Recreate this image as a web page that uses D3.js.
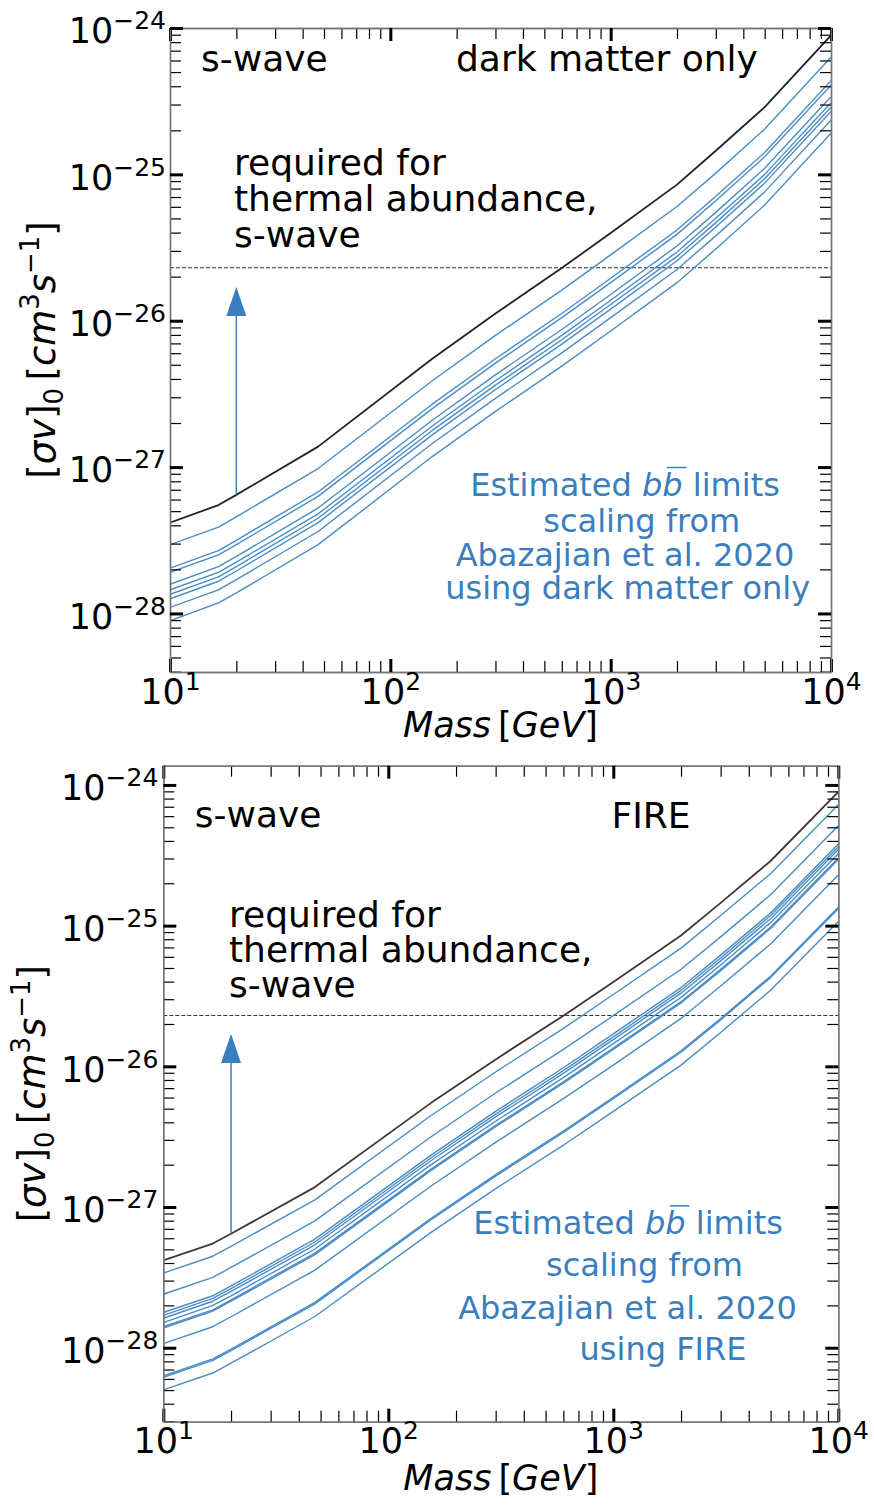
<!DOCTYPE html>
<html>
<head>
<meta charset="utf-8">
<script src="https://cdn.jsdelivr.net/npm/d3@7"></script>
<style>
  body { margin: 0; background: #fff; }
  svg text { font-family: "DejaVu Sans", sans-serif; }
</style>
</head>
<body>
<svg id="fig" width="874" height="1505"></svg>
<script>
// Dark matter mass grid [GeV]
const massGeV = [10, 16.6, 20, 47, 155, 300, 600, 1000, 2000, 3000, 5000, 10000];

// Reference s-wave limit (black curve), <sigma v>_0 in cm^3 s^-1
const abazajian2020Limit = [4.17e-28, 5.50e-28, 6.46e-28, 1.38e-27, 5.50e-27, 1.12e-26, 2.29e-26, 3.98e-26, 8.51e-26, 1.45e-25, 2.88e-25, 8.91e-25];

// Estimated b-bbar limits per halo, dark matter only simulations
const dmoEstimates = [
  [2.95e-28, 3.89e-28, 4.57e-28, 9.77e-28, 3.89e-27, 7.94e-27, 1.62e-26, 2.82e-26, 6.03e-26, 1.02e-25, 2.04e-25, 6.31e-25],
  [2.04e-28, 2.69e-28, 3.16e-28, 6.76e-28, 2.69e-27, 5.50e-27, 1.12e-26, 1.95e-26, 4.17e-26, 7.08e-26, 1.41e-25, 4.37e-25],
  [1.91e-28, 2.51e-28, 2.95e-28, 6.31e-28, 2.51e-27, 5.13e-27, 1.05e-26, 1.82e-26, 3.89e-26, 6.61e-26, 1.32e-25, 4.07e-25],
  [1.58e-28, 2.09e-28, 2.45e-28, 5.25e-28, 2.09e-27, 4.27e-27, 8.71e-27, 1.51e-26, 3.24e-26, 5.50e-26, 1.10e-25, 3.39e-25],
  [1.45e-28, 1.91e-28, 2.24e-28, 4.79e-28, 1.91e-27, 3.89e-27, 7.94e-27, 1.38e-26, 2.95e-26, 5.01e-26, 1.00e-25, 3.09e-25],
  [1.35e-28, 1.78e-28, 2.09e-28, 4.47e-28, 1.78e-27, 3.63e-27, 7.41e-27, 1.29e-26, 2.75e-26, 4.68e-26, 9.33e-26, 2.88e-25],
  [1.26e-28, 1.66e-28, 1.95e-28, 4.17e-28, 1.66e-27, 3.39e-27, 6.92e-27, 1.20e-26, 2.57e-26, 4.37e-26, 8.71e-26, 2.69e-25],
  [1.10e-28, 1.45e-28, 1.70e-28, 3.63e-28, 1.45e-27, 2.95e-27, 6.03e-27, 1.05e-26, 2.24e-26, 3.80e-26, 7.59e-26, 2.34e-25],
  [8.91e-29, 1.18e-28, 1.38e-28, 2.95e-28, 1.18e-27, 2.40e-27, 4.90e-27, 8.51e-27, 1.82e-26, 3.09e-26, 6.17e-26, 1.91e-25]
];

// Estimated b-bbar limits per halo, FIRE hydrodynamic simulations
const fireEstimates = [
  [3.39e-28, 4.47e-28, 5.25e-28, 1.12e-27, 4.47e-27, 9.12e-27, 1.86e-26, 3.24e-26, 6.92e-26, 1.18e-25, 2.34e-25, 7.24e-25],
  [2.40e-28, 3.16e-28, 3.72e-28, 7.94e-28, 3.16e-27, 6.46e-27, 1.32e-26, 2.29e-26, 4.90e-26, 8.32e-26, 1.66e-25, 5.13e-25],
  [1.78e-28, 2.34e-28, 2.75e-28, 5.89e-28, 2.34e-27, 4.79e-27, 9.77e-27, 1.70e-26, 3.63e-26, 6.17e-26, 1.23e-25, 3.80e-25],
  [1.70e-28, 2.24e-28, 2.63e-28, 5.62e-28, 2.24e-27, 4.57e-27, 9.33e-27, 1.62e-26, 3.47e-26, 5.89e-26, 1.18e-25, 3.63e-25],
  [1.62e-28, 2.14e-28, 2.51e-28, 5.37e-28, 2.14e-27, 4.37e-27, 8.91e-27, 1.55e-26, 3.31e-26, 5.62e-26, 1.12e-25, 3.47e-25],
  [1.51e-28, 2.00e-28, 2.34e-28, 5.01e-28, 2.00e-27, 4.07e-27, 8.32e-27, 1.45e-26, 3.09e-26, 5.25e-26, 1.05e-25, 3.24e-25],
  [1.41e-28, 1.86e-28, 2.19e-28, 4.68e-28, 1.86e-27, 3.80e-27, 7.76e-27, 1.35e-26, 2.88e-26, 4.90e-26, 9.77e-26, 3.02e-25],
  [1.38e-28, 1.82e-28, 2.14e-28, 4.57e-28, 1.82e-27, 3.72e-27, 7.59e-27, 1.32e-26, 2.82e-26, 4.79e-26, 9.55e-26, 2.95e-25],
  [1.07e-28, 1.41e-28, 1.66e-28, 3.55e-28, 1.41e-27, 2.88e-27, 5.89e-27, 1.02e-26, 2.19e-26, 3.72e-26, 7.41e-26, 2.29e-25],
  [6.31e-29, 8.32e-29, 9.77e-29, 2.09e-28, 8.32e-28, 1.70e-27, 3.47e-27, 6.03e-27, 1.29e-26, 2.19e-26, 4.37e-26, 1.35e-25],
  [6.17e-29, 8.13e-29, 9.55e-29, 2.04e-28, 8.13e-28, 1.66e-27, 3.39e-27, 5.89e-27, 1.26e-26, 2.14e-26, 4.27e-26, 1.32e-25],
  [5.01e-29, 6.61e-29, 7.76e-29, 1.66e-28, 6.61e-28, 1.35e-27, 2.75e-27, 4.79e-27, 1.02e-26, 1.74e-26, 3.47e-26, 1.07e-25]
];

// Thermal relic cross section and the "allowed upward" arrow
const thermalRelicXsec = 2.3e-26;
const arrowMass = 20;
const arrowBase = 6.46e-28;
const arrowTip = 1.7e-26;

const xMajorTicks = [10, 100, 1000, 10000];
const yMajorTicks = [1e-28, 1e-27, 1e-26, 1e-25, 1e-24];

const BLUE = "#3a7ebd";
const LINE_BLUE = "#4a8cc5";
const FS = 35;

const panels = [
  {
    id: "dmo",
    box: { l: 170, r: 831, t: 28, b: 672 },
    yDomain: [3.98e-29, 1.0001e-24],
    series: dmoEstimates,
    refColor: "#1b2430",
    yLabelX: 55, xLabelY: 736.7, tickPad: 4,
    titles: [
      { text: "s-wave", x: 201, y: 71 },
      { text: "dark matter only", x: 456, y: 71 }
    ],
    thermal: { x: 234, ys: [175, 211, 247] },
    note: {
      lines: ["Estimated ", "scaling from", "Abazajian et al. 2020", "using dark matter only"],
      xs: [625, 641.7, 625, 627.7], ys: [496, 531.7, 566, 599.3]
    }
  },
  {
    id: "fire",
    box: { l: 163.3, r: 838.3, t: 765.7, b: 1421.7 },
    yDomain: [2.98e-29, 1.37e-24],
    series: fireEstimates,
    refColor: "#3a3a3a",
    yLabelX: 45.4, xLabelY: 1490, tickPad: 5,
    titles: [
      { text: "s-wave", x: 194.7, y: 827.3 },
      { text: "FIRE", x: 611.5, y: 828.3 }
    ],
    thermal: { x: 229, ys: [926.5, 961.5, 996.5] },
    note: {
      lines: ["Estimated ", "scaling from", "Abazajian et al. 2020", "using FIRE"],
      xs: [628, 644.5, 627.5, 663], ys: [1234.3, 1276, 1319.3, 1360]
    }
  }
];

const svg = d3.select("#fig");

// Mixed-style text: italic pieces, super/subscripts
function richText(sel, segs, fs) {
  let cur = 0;
  segs.forEach(s => {
    const target = s.sup ? -0.42 * fs : s.sub ? 0.22 * fs : 0;
    const ts = sel.append("tspan").text(s.t);
    if (target - cur !== 0) ts.attr("dy", target - cur);
    cur = target;
    if (s.sup || s.sub) ts.attr("font-size", 0.7 * fs);
    if (s.i) ts.attr("font-style", "italic");
  });
}

function powLabel(sel, v) {
  const n = Math.round(Math.log10(v));
  sel.text(null);
  sel.append("tspan").text("10");
  sel.append("tspan")
    .attr("dy", -14)
    .attr("font-size", 25)
    .text(n < 0 ? "\u2212" + Math.abs(n) : String(n));
}

panels.forEach(p => {
  const { l, r, t, b } = p.box;
  const x = d3.scaleLog().domain([10, 10000]).range([l, r]);
  const y = d3.scaleLog().domain(p.yDomain).range([b, t]);

  const isDecade = v => Math.abs(Math.log10(v) - Math.round(Math.log10(v))) < 1e-6;
  const xMinor = x.ticks().filter(v => !isDecade(v));
  const yMinor = y.ticks().filter(v => !isDecade(v));
  const [y0, y1] = y.domain();
  const yMajor = yMajorTicks.filter(v => v >= y0 * 0.999 && v <= y1 * 1.001);

  const g = svg.append("g").attr("class", "panel-" + p.id);

  // clip for data lines
  const clipId = "clip-" + p.id;
  svg.append("defs").append("clipPath").attr("id", clipId)
    .append("rect").attr("x", l).attr("y", t).attr("width", r - l).attr("height", b - t);

  const line = d3.line().x((d, i) => x(massGeV[i])).y(d => y(d));

  const plot = g.append("g").attr("clip-path", `url(#${clipId})`);

  // thermal relic dashed line
  plot.append("line")
    .attr("x1", l).attr("x2", r)
    .attr("y1", y(thermalRelicXsec)).attr("y2", y(thermalRelicXsec))
    .attr("stroke", "#333").attr("stroke-width", 1.1)
    .attr("stroke-dasharray", "4,2");

  // estimated limits
  plot.selectAll("path.est").data(p.series).join("path")
    .attr("class", "est")
    .attr("d", line)
    .attr("fill", "none")
    .attr("stroke", LINE_BLUE)
    .attr("stroke-width", 1.4)
    .attr("stroke-linejoin", "round");

  // reference limit
  plot.append("path")
    .attr("d", line(abazajian2020Limit))
    .attr("fill", "none")
    .attr("stroke", p.refColor)
    .attr("stroke-width", 1.8)
    .attr("stroke-linejoin", "round");

  // arrow
  const ax = x(arrowMass);
  const tipY = y(arrowTip);
  const headLen = 29, headHalf = 10;
  g.append("line")
    .attr("x1", ax).attr("x2", ax)
    .attr("y1", y(arrowBase)).attr("y2", tipY + headLen - 1)
    .attr("stroke", BLUE).attr("stroke-width", 1.5);
  g.append("path")
    .attr("d", `M${ax},${tipY} L${ax + headHalf},${tipY + headLen} L${ax - headHalf},${tipY + headLen} Z`)
    .attr("fill", BLUE);

  // axes (ticks point inward)
  const styleAxis = (sel) => {
    sel.select(".domain").attr("stroke", "#777").attr("stroke-width", 1.4);
    sel.selectAll(".tick line").attr("stroke", "#000");
  };

  const mkAxis = (fn, scale, vals, size, width, pos, withLabels) => {
    const a = fn(scale).tickValues(vals).tickSize(-size).tickSizeOuter(0);
    if (!withLabels) a.tickFormat("");
    const gg = g.append("g").attr("transform", pos).call(a);
    styleAxis(gg);
    gg.selectAll(".tick line").attr("stroke-width", width);
    return gg;
  };

  // minor
  mkAxis(d3.axisBottom, x, xMinor, 11, 1.2, `translate(0,${b})`, false);
  mkAxis(d3.axisTop, x, xMinor, 11, 1.2, `translate(0,${t})`, false);
  mkAxis(d3.axisLeft, y, yMinor, 11, 1.2, `translate(${l},0)`, false);
  mkAxis(d3.axisRight, y, yMinor, 11, 1.2, `translate(${r},0)`, false);
  // major
  const xb = mkAxis(d3.axisBottom, x, xMajorTicks, 13, 3, `translate(0,${b})`, true);
  mkAxis(d3.axisTop, x, xMajorTicks, 13, 3, `translate(0,${t})`, false);
  const yl = mkAxis(d3.axisLeft, y, yMajor, 13, 3, `translate(${l},0)`, true);
  mkAxis(d3.axisRight, y, yMajor, 13, 3, `translate(${r},0)`, false);

  xb.attr("font-family", "DejaVu Sans").attr("font-size", FS);
  xb.selectAll(".tick text").attr("fill", "#000").attr("y", 31.6).attr("dy", null)
    .each(function (d) { powLabel(d3.select(this), d); });

  yl.attr("font-family", "DejaVu Sans").attr("font-size", FS);
  yl.selectAll(".tick text").attr("fill", "#000").attr("x", -p.tickPad).attr("dy", 14.8)
    .each(function (d) { powLabel(d3.select(this), d); });

  // axis titles
  const YFS = 37;
  const yt = g.append("text")
    .attr("transform", `translate(${p.yLabelX},${(t + b) / 2}) rotate(-90)`)
    .attr("text-anchor", "middle").attr("font-size", YFS).attr("fill", "#000");
  richText(yt, [
    { t: "[" }, { t: "\u03c3v", i: 1 }, { t: "]" }, { t: "0", sub: 1 },
    { t: "\u2009[" }, { t: "cm", i: 1 }, { t: "3", sup: 1 }, { t: "s", i: 1 },
    { t: "\u22121", sup: 1 }, { t: "]" }
  ], YFS);

  const xt = g.append("text")
    .attr("x", (l + r) / 2).attr("y", p.xLabelY)
    .attr("text-anchor", "middle").attr("font-size", FS).attr("fill", "#000");
  richText(xt, [{ t: "Mass", i: 1 }, { t: "\u2009[" }, { t: "GeV", i: 1 }, { t: "]" }], FS);

  // panel titles
  p.titles.forEach(tt => {
    g.append("text").attr("x", tt.x).attr("y", tt.y)
      .attr("font-size", 36).attr("fill", "#000").text(tt.text);
  });

  // thermal abundance annotation
  ["required for", "thermal abundance,", "s-wave"].forEach((s, i) => {
    g.append("text").attr("x", p.thermal.x).attr("y", p.thermal.ys[i])
      .attr("font-size", 36).attr("fill", "#000").text(s);
  });

  // blue note
  const NFS = 32;
  p.note.lines.forEach((s, i) => {
    const tx = g.append("text").attr("x", p.note.xs[i]).attr("y", p.note.ys[i])
      .attr("text-anchor", "middle").attr("font-size", NFS).attr("fill", BLUE);
    if (i === 0) {
      tx.append("tspan").text(s);
      tx.append("tspan").attr("font-style", "italic").text("b");
      tx.append("tspan").attr("font-style", "italic").text("b");
      tx.append("tspan").text(" limits");
      const node = tx.node();
      const ext = node.getExtentOfChar(s.length + 1);
      const oy = p.note.ys[i] - 0.89 * NFS;
      g.append("line")
        .attr("x1", ext.x + 0.14 * NFS).attr("x2", ext.x + ext.width + 0.12 * NFS)
        .attr("y1", oy).attr("y2", oy)
        .attr("stroke", BLUE).attr("stroke-width", 1.5);
    } else {
      tx.text(s);
    }
  });
});
</script>
</body>
</html>
